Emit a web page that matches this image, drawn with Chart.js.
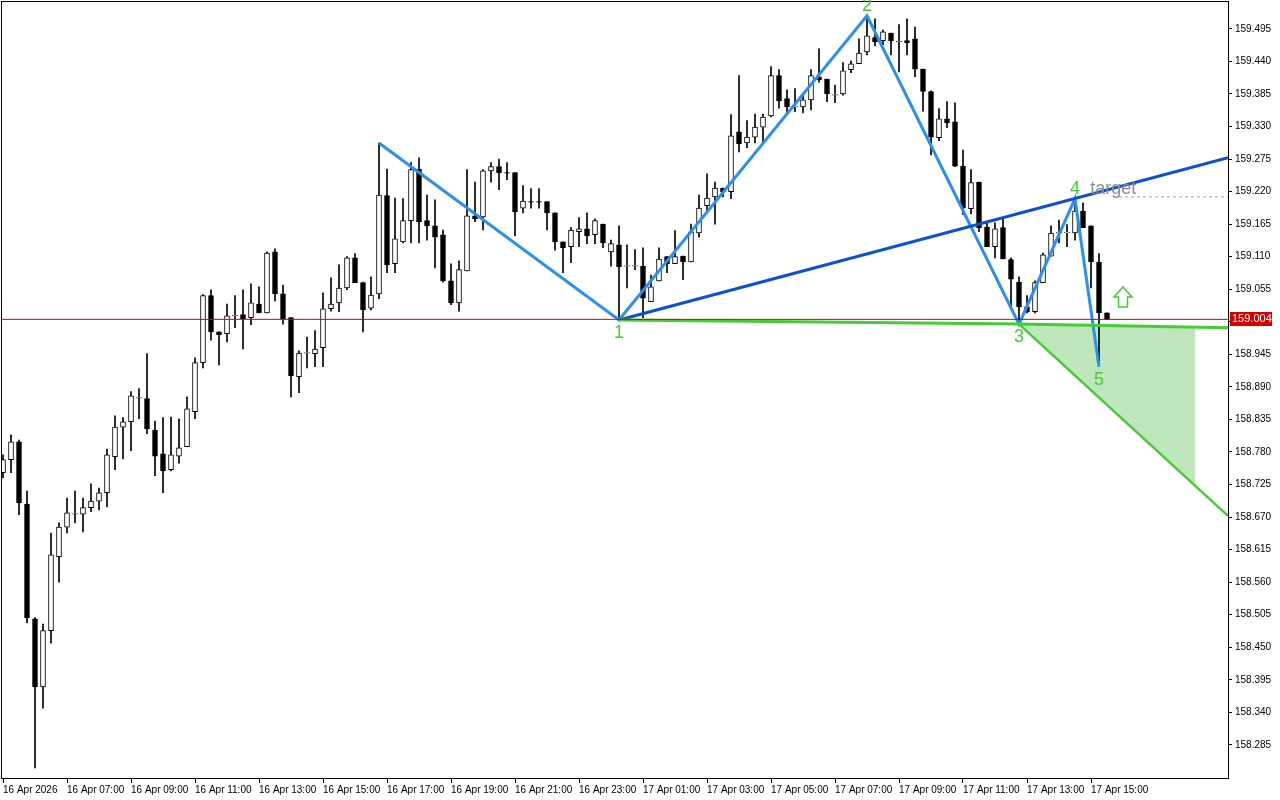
<!DOCTYPE html>
<html>
<head>
<meta charset="utf-8">
<script src="https://cdn.jsdelivr.net/npm/chart.js@4.4.1/dist/chart.umd.min.js"></script>
<style>
  html, body { margin: 0; padding: 0; background: #fff; }
  #wrap { width: 1280px; height: 800px; }
</style>
</head>
<body>
<div id="wrap"><canvas id="chart" width="1280" height="800"></canvas></div>
<script>
// M15 candles, 16 Apr 05:00 -> 17 Apr 15:30 (index 0..138)
const opens = [
  158.745, 158.767, 158.797, 158.692, 158.498, 158.383, 158.478, 158.603, 158.653, 158.675,
  158.675, 158.686, 158.697, 158.711, 158.772, 158.822, 158.831, 158.871, 158.870, 158.817,
  158.777, 158.750, 158.773, 158.789, 158.848, 158.931, 159.044, 158.983, 158.980, 159.010,
  159.012, 159.007, 159.030, 159.015, 159.118, 159.047, 159.007, 158.907, 158.947, 158.946,
  158.956, 159.022, 159.032, 159.057, 159.108, 159.066, 159.023, 159.047, 159.213, 159.098,
  159.135, 159.171, 159.258, 159.171, 159.162, 159.147, 159.069, 159.032, 159.086, 159.179,
  159.177, 159.255, 159.262, 159.252, 159.252, 159.192, 159.203, 159.203, 159.203, 159.184,
  159.135, 159.127, 159.152, 159.157, 159.147, 159.165, 159.118, 159.130, 159.094, 159.094,
  159.094, 159.034, 159.069, 159.110, 159.098, 159.111, 159.101, 159.150, 159.196, 159.211,
  159.226, 159.220, 159.321, 159.302, 159.312, 159.329, 159.348, 159.416, 159.377, 159.363,
  159.363, 159.375, 159.414, 159.410, 159.383, 159.385, 159.426, 159.436, 159.456, 159.480,
  159.475, 159.488, 159.473, 159.475, 159.478, 159.427, 159.389, 159.311, 159.343, 159.338,
  159.263, 159.191, 159.236, 159.160, 159.127, 159.159, 159.105, 159.067, 159.025, 159.017,
  159.066, 159.111, 159.150, 159.150, 159.150, 159.187, 159.162, 159.101, 159.015
];
const highs = [
  158.775, 158.809, 158.800, 158.714, 158.500, 158.489, 158.643, 158.660, 158.702, 158.714,
  158.702, 158.726, 158.719, 158.785, 158.841, 158.838, 158.882, 158.887, 158.946, 158.832,
  158.838, 158.839, 158.836, 158.873, 158.939, 159.046, 159.054, 158.983, 159.030, 159.044,
  159.054, 159.064, 159.059, 159.118, 159.123, 159.062, 159.007, 158.951, 158.974, 158.985,
  159.049, 159.074, 159.096, 159.110, 159.115, 159.067, 159.076, 159.302, 159.258, 159.209,
  159.208, 159.269, 159.277, 159.214, 159.206, 159.155, 159.098, 159.103, 159.257, 159.236,
  159.257, 159.269, 159.275, 159.269, 159.252, 159.230, 159.225, 159.225, 159.203, 159.184,
  159.135, 159.159, 159.176, 159.184, 159.174, 159.165, 159.138, 159.162, 159.130, 159.122,
  159.125, 159.079, 159.125, 159.110, 159.154, 159.111, 159.165, 159.214, 159.250, 159.236,
  159.226, 159.350, 159.416, 159.340, 159.351, 159.351, 159.431, 159.426, 159.392, 159.394,
  159.383, 159.426, 159.461, 159.410, 159.400, 159.438, 159.441, 159.478, 159.515, 159.512,
  159.493, 159.488, 159.502, 159.512, 159.498, 159.427, 159.390, 159.360, 159.372, 159.370,
  159.290, 159.257, 159.236, 159.167, 159.167, 159.176, 159.108, 159.076, 159.044, 159.069,
  159.116, 159.162, 159.172, 159.164, 159.208, 159.201, 159.162, 159.115, 159.015
];
const lows = [
  158.736, 158.745, 158.674, 158.491, 158.246, 158.347, 158.457, 158.560, 158.643, 158.660,
  158.645, 158.679, 158.682, 158.687, 158.750, 158.768, 158.782, 158.836, 158.811, 158.740,
  158.711, 158.748, 158.761, 158.789, 158.836, 158.922, 158.969, 158.927, 158.966, 158.990,
  158.954, 158.995, 159.015, 159.015, 159.035, 158.996, 158.873, 158.880, 158.922, 158.924,
  158.924, 159.018, 159.017, 159.054, 159.066, 158.983, 159.020, 159.039, 159.083, 159.083,
  159.133, 159.133, 159.133, 159.138, 159.091, 159.067, 159.029, 159.018, 159.086, 159.169,
  159.155, 159.236, 159.223, 159.240, 159.145, 159.184, 159.192, 159.192, 159.155, 159.121,
  159.083, 159.100, 159.127, 159.132, 159.132, 159.125, 159.094, 159.003, 159.057, 159.088,
  159.007, 159.034, 159.069, 159.083, 159.098, 159.071, 159.101, 159.143, 159.184, 159.165,
  159.211, 159.208, 159.287, 159.294, 159.302, 159.304, 159.346, 159.361, 159.353, 159.355,
  159.353, 159.358, 159.405, 159.372, 159.370, 159.383, 159.421, 159.436, 159.451, 159.466,
  159.468, 159.451, 159.422, 159.451, 159.414, 159.356, 159.282, 159.306, 159.328, 159.262,
  159.181, 159.182, 159.152, 159.127, 159.108, 159.106, 159.025, 158.996, 159.015, 159.015,
  159.066, 159.111, 159.133, 159.127, 159.138, 159.159, 159.057, 158.931, 159.004
];
const closes = [
  158.767, 158.797, 158.694, 158.500, 158.383, 158.478, 158.606, 158.653, 158.677, 158.676,
  158.686, 158.697, 158.711, 158.775, 158.822, 158.831, 158.875, 158.872, 158.819, 158.773,
  158.748, 158.775, 158.787, 158.853, 158.931, 159.044, 158.983, 158.978, 159.010, 159.011,
  159.005, 159.032, 159.015, 159.116, 159.047, 159.005, 158.909, 158.947, 158.948, 158.954,
  159.022, 159.030, 159.057, 159.108, 159.066, 159.020, 159.045, 159.214, 159.096, 159.140,
  159.171, 159.257, 159.169, 159.162, 159.143, 159.069, 159.032, 159.088, 159.179, 159.174,
  159.255, 159.262, 159.252, 159.251, 159.186, 159.204, 159.202, 159.202, 159.184, 159.135,
  159.125, 159.155, 159.157, 159.145, 159.171, 159.133, 159.132, 159.093, 159.095, 159.095,
  159.040, 159.059, 159.106, 159.098, 159.110, 159.101, 159.152, 159.192, 159.209, 159.226,
  159.220, 159.314, 159.301, 159.312, 159.329, 159.346, 159.416, 159.373, 159.363, 159.364,
  159.375, 159.416, 159.409, 159.385, 159.384, 159.424, 159.436, 159.454, 159.483, 159.473,
  159.490, 159.475, 159.474, 159.471, 159.427, 159.389, 159.312, 159.343, 159.336, 159.263,
  159.192, 159.235, 159.159, 159.127, 159.157, 159.106, 159.072, 159.025, 159.017, 159.066,
  159.113, 159.150, 159.151, 159.151, 159.187, 159.159, 159.101, 159.015, 159.004
];

// wave points (candle index, price): A,1,2,3,4,5
const waveIdx = [47, 77, 108, 127, 134, 137];
const wavePrice = [159.302, 159.003, 159.517, 158.996, 159.208, 158.924];
const waveNames = ['', '1', '2', '3', '4', '5'];

// extended lines: 1-4 trend, 1-3 base, 3 down line
const line14 = [[77, 159.003], [153.125, 159.277]];
const line13 = [[77, 159.003], [127, 158.996], [153.125, 158.990]];
const line3dn = [[127, 158.996], [153.125, 158.672]];
const zoneTop = [[127, 158.996], [149, 158.991]];
const zoneBot = [[127, 158.996], [149, 158.724]];
const targetLine = [[139.5, 159.211], [153.125, 159.211]];
const currentPrice = 159.004;
const arrowAt = [140, 159.042];

const yTicks = [158.285, 158.340, 158.395, 158.450, 158.505, 158.560, 158.615, 158.670,
  158.725, 158.780, 158.835, 158.890, 158.945, 159.000, 159.055, 159.110, 159.165, 159.220,
  159.275, 159.330, 159.385, 159.440, 159.495];
const xTickIdx = [0, 8, 16, 24, 32, 40, 48, 56, 64, 72, 80, 88, 96, 104, 112, 120, 128, 136];
const xTickLabels = ['16 Apr 2026', '16 Apr 07:00', '16 Apr 09:00', '16 Apr 11:00', '16 Apr 13:00',
  '16 Apr 15:00', '16 Apr 17:00', '16 Apr 19:00', '16 Apr 21:00', '16 Apr 23:00',
  '17 Apr 01:00', '17 Apr 03:00', '17 Apr 05:00', '17 Apr 07:00', '17 Apr 09:00',
  '17 Apr 11:00', '17 Apr 13:00', '17 Apr 15:00'];

const FONT = "'Liberation Sans', Arial, sans-serif";
const GREEN = '#44cc33';

const pts = arr => arr.map(p => ({ x: p[0], y: p[1] }));

const wicks = opens.map((o, i) => ({ x: i, y: [lows[i], highs[i]] }));
const bodies = opens.map((o, i) => ({ x: i, y: [o, closes[i]] }));
const bodyFill = opens.map((o, i) => closes[i] >= o ? '#ffffff' : '#000000');

function line(data, color, width, extra) {
  return Object.assign({
    type: 'line',
    data: data,
    borderColor: color,
    borderWidth: width,
    pointRadius: 0,
    tension: 0,
    fill: false,
    order: 0
  }, extra || {});
}

// no extra room for half labels at the ends of the axes
function noPad(s) {
  s.paddingTop = 0;
  s.paddingBottom = 0;
  s.paddingLeft = 0;
  s.paddingRight = 0;
}

// texts, price label, arrow, frame
const overlay = {
  id: 'overlay',
  afterDatasetsDraw(chart) {
    const { ctx, chartArea: a, scales: { x, y } } = chart;
    ctx.save();
    // frame
    ctx.strokeStyle = '#000';
    ctx.lineWidth = 1;
    ctx.strokeRect(a.left + 0.5, a.top + 0.5, a.right - a.left, a.bottom - a.top);

    // wave numbers
    ctx.font = '18px ' + FONT;
    ctx.fillStyle = GREEN;
    ctx.textAlign = 'center';
    waveNames.forEach((n, i) => {
      if (!n) return;
      const px = x.getPixelForValue(waveIdx[i]);
      const py = y.getPixelForValue(wavePrice[i]);
      const up = i === 2 || i === 4;
      if (up) {
        ctx.textBaseline = 'alphabetic';
        ctx.fillText(n, px, py - 5);
      } else {
        ctx.textBaseline = 'top';
        ctx.fillText(n, px, py + 4);
      }
    });

    // target text
    ctx.font = '18px ' + FONT;
    ctx.fillStyle = '#8c8c8c';
    ctx.textAlign = 'left';
    ctx.textBaseline = 'alphabetic';
    ctx.fillText('target', x.getPixelForValue(135.9), y.getPixelForValue(159.211) - 3);

    // hollow up arrow
    const ax = x.getPixelForValue(arrowAt[0]);
    const ay = y.getPixelForValue(arrowAt[1]);
    ctx.beginPath();
    ctx.moveTo(ax, ay - 10);
    ctx.lineTo(ax + 9, ay);
    ctx.lineTo(ax + 4.5, ay);
    ctx.lineTo(ax + 4.5, ay + 10);
    ctx.lineTo(ax - 4.5, ay + 10);
    ctx.lineTo(ax - 4.5, ay);
    ctx.lineTo(ax - 9, ay);
    ctx.closePath();
    ctx.fillStyle = '#ffffff';
    ctx.fill();
    ctx.strokeStyle = GREEN;
    ctx.lineWidth = 1.5;
    ctx.stroke();

    // current price label
    const cy = Math.round(y.getPixelForValue(currentPrice));
    ctx.fillStyle = '#d40000';
    ctx.fillRect(a.right + 2, cy - 7, 42, 14);
    ctx.fillStyle = '#ffffff';
    ctx.font = '11px ' + FONT;
    ctx.textBaseline = 'middle';
    ctx.fillText(currentPrice.toFixed(3), a.right + 4, cy);
    ctx.restore();
  }
};

new Chart(document.getElementById('chart'), {
  type: 'bar',
  data: {
    datasets: [
      // shaded zone
      line(pts(zoneTop), 'rgba(0,0,0,0)', 0, { fill: '+1', backgroundColor: '#bfe6bd', order: 3 }),
      line(pts(zoneBot), 'rgba(0,0,0,0)', 0, { order: 3 }),
      // candles
      { data: wicks, backgroundColor: '#000', barThickness: 1, grouped: false, order: 2 },
      { data: bodies, backgroundColor: bodyFill, borderColor: '#000', borderWidth: 1,
        borderSkipped: false, barThickness: 5, grouped: false, order: 1 },
      // current price
      line([{ x: -0.25, y: currentPrice }, { x: 153.125, y: currentPrice }], '#d40000', 1),
      // green lines
      line(pts(line13), GREEN, 3),
      line(pts(line3dn), GREEN, 2.5),
      // target
      line(pts(targetLine), '#a0a0a0', 1, { borderDash: [3, 3] }),
      // trend 1-4
      line(pts(line14), '#0a4fd6', 3),
      // zigzag
      line(waveIdx.map((v, i) => ({ x: v, y: wavePrice[i] })), '#2a8ff2', 3)
    ]
  },
  options: {
    responsive: false,
    animation: false,
    events: [],
    layout: { padding: { left: 1, top: 1, right: 0, bottom: 0 } },
    plugins: { legend: { display: false }, tooltip: { enabled: false } },
    scales: {
      x: {
        type: 'linear',
        min: -0.25,
        max: 153.125,
        offset: false,
        grid: { drawOnChartArea: false, offset: false, tickLength: 5, color: '#000' },
        border: { color: '#000' },
        afterBuildTicks: s => { s.ticks = xTickIdx.map(v => ({ value: v })); },
        afterFit: s => { s.height = 22; noPad(s); },
        ticks: {
          autoSkip: false,
          maxRotation: 0,
          align: 'start',
          padding: 1,
          color: '#000',
          font: { family: FONT, size: 10 },
          callback: (v, i) => xTickLabels[i]
        }
      },
      y: {
        position: 'right',
        min: 158.229,
        max: 159.542,
        grid: { drawOnChartArea: false, tickLength: 4, color: '#000' },
        border: { color: '#000' },
        afterBuildTicks: s => { s.ticks = yTicks.map(v => ({ value: v })); },
        afterFit: s => { s.width = 52; noPad(s); },
        ticks: {
          padding: 3,
          color: '#000',
          font: { family: FONT, size: 10 },
          callback: v => v.toFixed(3)
        }
      }
    }
  },
  plugins: [overlay]
});
</script>
</body>
</html>
